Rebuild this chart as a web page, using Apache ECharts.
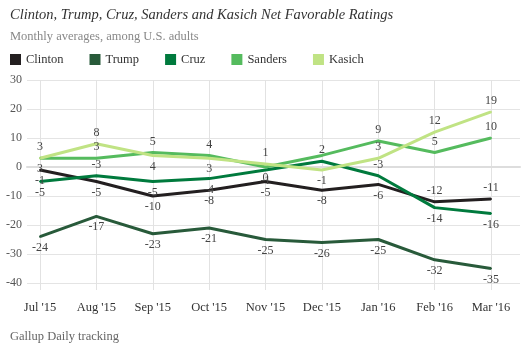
<!DOCTYPE html>
<html><head><meta charset="utf-8">
<script src="https://cdn.jsdelivr.net/npm/echarts@6/dist/echarts.min.js"></script>
<style>html,body{margin:0;padding:0;background:#fff}#c{width:523px;height:344px}</style>
</head><body><div id="c"></div>
<script>
const months = ["Jul '15","Aug '15","Sep '15","Oct '15","Nov '15","Dec '15","Jan '16","Feb '16","Mar '16"];
const clinton = [-1,-5,-10,-8,-5,-8,-6,-12,-11];
const trump = [-24,-17,-23,-21,-25,-26,-25,-32,-35];
const cruz = [-5,-3,-5,-4,-1,2,-3,-14,-16];
const sanders = [3,3,5,4,0,4,9,5,10];
const kasich = [3,8,4,3,1,-1,3,12,19];
const yTicks = [-40,-30,-20,-10,0,10,20,30];

// label placement (style only): 't' top, 'b' bottom, '' hidden
const place = {
  Clinton: ['b','b','b','b','b','b','b','t','t'],
  Trump:   ['b','b','b','b','b','b','b','b','b'],
  Cruz:    ['b','t','b','b','b','t','t','b','b'],
  Sanders: ['b','t','t','t','b','','t','t','t'],
  Kasich:  ['t','t','b','b','t','b','t','t','t']
};
const colors = {Clinton:'#231f20',Trump:'#285a3a',Cruz:'#007a3d',Sanders:'#55bb5e',Kasich:'#c0e384'};
const seriesDefs = [['Clinton',clinton],['Trump',trump],['Cruz',cruz],['Sanders',sanders],['Kasich',kasich]];

const serif = "'Liberation Serif', 'Times New Roman', serif";
const chart = echarts.init(document.getElementById('c'));
chart.setOption({
  animation:false,
  textStyle:{fontFamily:serif},
  title:[
    {text:'Clinton, Trump, Cruz, Sanders and Kasich Net Favorable Ratings',left:5,top:3,
     textStyle:{fontFamily:serif,fontStyle:'italic',fontWeight:'normal',fontSize:14.5,color:'#333'}},
    {text:'Monthly averages, among U.S. adults',left:5,top:25,
     textStyle:{fontFamily:serif,fontWeight:'normal',fontSize:12.5,color:'#888'}},
    {text:'Gallup Daily tracking',left:5,top:325,
     textStyle:{fontFamily:serif,fontWeight:'normal',fontSize:12.5,color:'#666'}}
  ],
  legend:{left:5,top:48,itemWidth:11,itemHeight:11,itemGap:26,icon:'rect',
    textStyle:{fontFamily:serif,fontSize:12.5,color:'#333'},
    data:seriesDefs.map(d=>d[0])},
  grid:[
    {left:27,right:3,top:80,bottom:61},
    {left:40,right:32,top:80,bottom:54}
  ],
  xAxis:[
    {gridIndex:0,type:'value',min:0,max:1,offset:7,axisLine:{show:true,lineStyle:{color:'#ddd',width:2}},
     axisTick:{show:false},axisLabel:{show:false},splitLine:{show:false}},
    {gridIndex:1,type:'category',data:months,boundaryGap:false,
     axisLine:{show:false},axisTick:{show:false},
     axisLabel:{interval:0,margin:11,fontSize:12.5,color:'#333',fontFamily:serif},
     splitLine:{show:true,interval:0,lineStyle:{color:'#e2e2e2',width:1}}}
  ],
  yAxis:[
    {gridIndex:0,type:'value',min:yTicks[0],max:yTicks[yTicks.length-1],interval:10,
     axisLine:{show:false},axisTick:{show:false},
     axisLabel:{margin:5,fontSize:12,color:'#555',fontFamily:serif},
     splitLine:{lineStyle:{color:'#e4e4e4',width:1}}},
    {gridIndex:1,type:'value',min:-42.4,max:30,show:false,splitLine:{show:false}}
  ],
  series:seriesDefs.map(([name,vals])=>({
    name,type:'line',xAxisIndex:1,yAxisIndex:1,
    symbol:'circle',symbolSize:2,showSymbol:true,
    lineStyle:{width:3,color:colors[name]},itemStyle:{color:colors[name]},
    data:vals.map((v,i)=>{
      const p = place[name][i];
      return {value:v,label:{show:p!=='',position:p==='b'?'bottom':'top',distance:4}};
    }),
    label:{show:true,fontSize:12,color:'#444',fontFamily:serif},
    labelLayout:{hideOverlap:false},
    emphasis:{disabled:true},
    z: 2
  }))
});
</script></body></html>
